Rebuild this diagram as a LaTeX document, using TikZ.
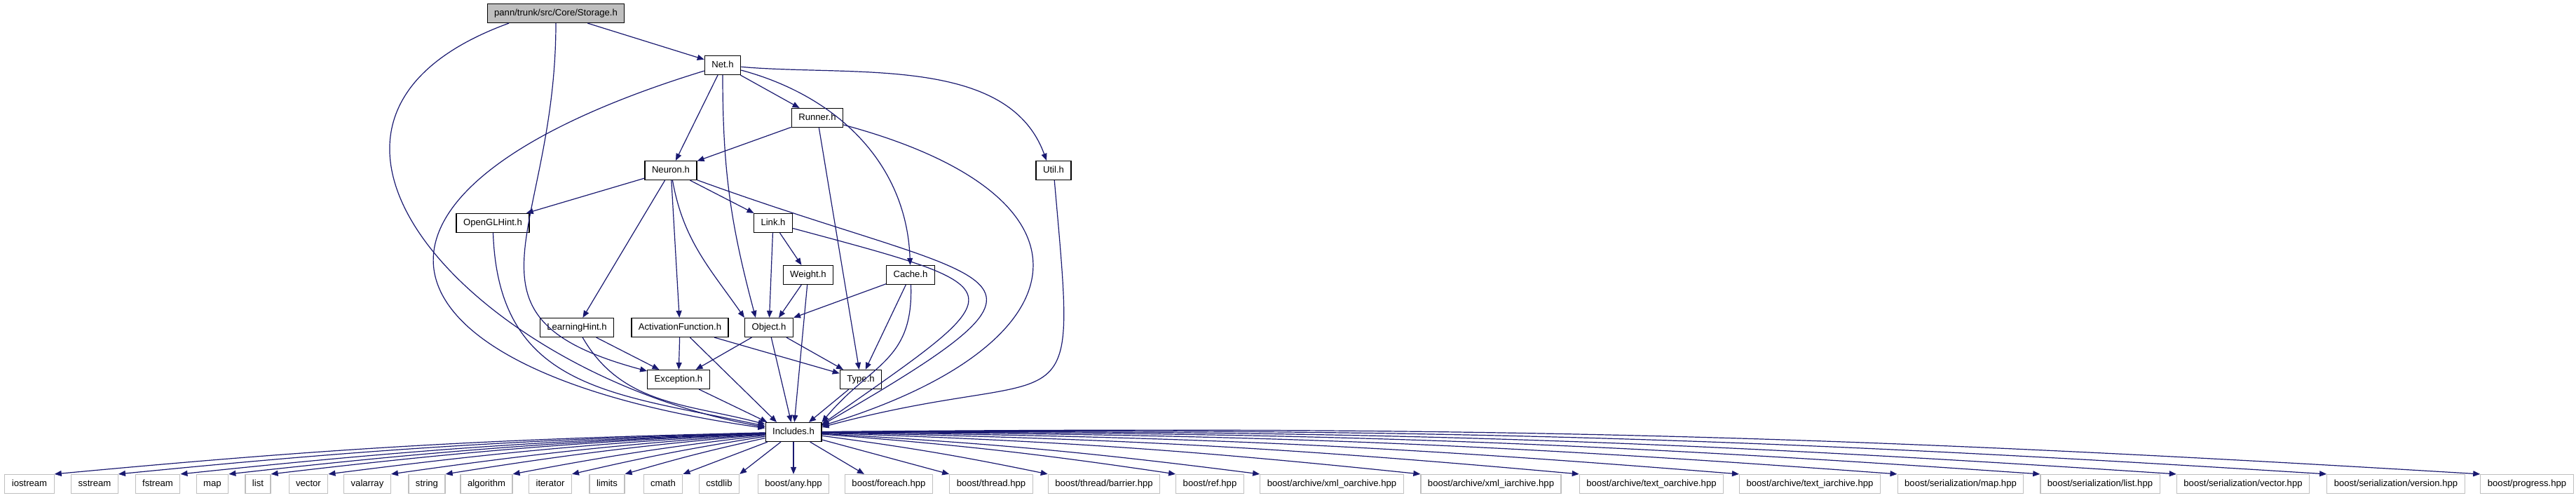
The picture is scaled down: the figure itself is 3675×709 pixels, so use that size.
\documentclass[tikz,border=0pt]{standalone}
\usepackage{fontspec}
\setmainfont{Liberation Sans}
\usepackage{xcolor}
\usepackage{tikz}
\usetikzlibrary{arrows.meta}

\definecolor{depblue}{RGB}{25,25,112}
\definecolor{boxgray}{RGB}{191,191,191}

\begin{document}
\begin{tikzpicture}[x=0.25pt, y=-0.25pt, >={Triangle[length=2.5pt,width=2pt]}]
    \tikzstyle{hdr} = [draw, rectangle, line width=0.3pt, minimum height=6.75pt, inner xsep=2.5pt, inner ysep=0pt, text height=2.5pt, text depth=0.75pt, font=\fontsize{3.28}{4}\selectfont]
    \tikzstyle{mainhdr} = [hdr, fill=boxgray]
    \tikzstyle{syshdr} = [hdr, draw=boxgray]
    \tikzstyle{dep} = [->, draw=depblue, line width=0.3pt]

    \useasboundingbox (0,0) rectangle (3675,709);

    % Nodes
    \node [mainhdr] (storage) at (793,19) {pann/trunk/src/Core/Storage.h};
    \node [hdr] (net) at (1031,93) {Net.h};
    \node [hdr] (runner) at (1166,168) {Runner.h};
    \node [hdr] (neuron) at (957,243) {Neuron.h};
    \node [hdr] (util) at (1503,243) {Util.h};
    \node [hdr] (opengl) at (703,318) {OpenGLHint.h};
    \node [hdr] (link) at (1103,318) {Link.h};
    \node [hdr] (weight) at (1153,392) {Weight.h};
    \node [hdr] (cache) at (1299,392) {Cache.h};
    \node [hdr] (learning) at (823,467) {LearningHint.h};
    \node [hdr] (activation) at (970,467) {ActivationFunction.h};
    \node [hdr] (object) at (1097,467) {Object.h};
    \node [hdr] (exception) at (968,541) {Exception.h};
    \node [hdr] (type) at (1228,541) {Type.h};
    \node [hdr] (includes) at (1132,616) {Includes.h};

    % System and boost headers
    \node [syshdr] (iostream) at (42,690) {iostream};
    \node [syshdr] (sstream) at (135,690) {sstream};
    \node [syshdr] (fstream) at (225,690) {fstream};
    \node [syshdr] (map) at (303,690) {map};
    \node [syshdr] (list) at (368,690) {list};
    \node [syshdr] (vector) at (440,690) {vector};
    \node [syshdr] (valarray) at (524,690) {valarray};
    \node [syshdr] (string) at (609,690) {string};
    \node [syshdr] (algorithm) at (694,690) {algorithm};
    \node [syshdr] (iterator) at (785,690) {iterator};
    \node [syshdr] (limits) at (866,690) {limits};
    \node [syshdr] (cmath) at (946,690) {cmath};
    \node [syshdr] (cstdlib) at (1026,690) {cstdlib};
    \node [syshdr] (boostany) at (1132,690) {boost/any.hpp};
    \node [syshdr] (foreach) at (1268,690) {boost/foreach.hpp};
    \node [syshdr] (thread) at (1414,690) {boost/thread.hpp};
    \node [syshdr] (barrier) at (1575,690) {boost/thread/barrier.hpp};
    \node [syshdr] (ref) at (1726,690) {boost/ref.hpp};
    \node [syshdr] (xmloarch) at (1900,690) {boost/archive/xml\_oarchive.hpp};
    \node [syshdr] (xmliarch) at (2127,690) {boost/archive/xml\_iarchive.hpp};
    \node [syshdr] (textoarch) at (2356,690) {boost/archive/text\_oarchive.hpp};
    \node [syshdr] (textiarch) at (2582,690) {boost/archive/text\_iarchive.hpp};
    \node [syshdr] (sermap) at (2797,690) {boost/serialization/map.hpp};
    \node [syshdr] (serlist) at (2996,690) {boost/serialization/list.hpp};
    \node [syshdr] (servector) at (3200,690) {boost/serialization/vector.hpp};
    \node [syshdr] (serversion) at (3418,690) {boost/serialization/version.hpp};
    \node [syshdr] (progress) at (3605,690) {boost/progress.hpp};

    % Paths
    \draw [dep] (storage) -- (net);
    \draw [dep] ([xshift=-16.75pt]storage.south) to[out=200, in=170, looseness=1.55] (includes);
    \draw [dep] (storage) to[out=-90, in=165, looseness=1.5] (exception);
    \draw [dep] (net) to[out=197, in=172, looseness=2.9] (includes);
    \draw [dep] (net) -- (neuron);
    \draw [dep] (net) to[out=-90, in=105] ([xshift=-4.75pt]object.north);
    \draw [dep] (net) -- (runner);
    \draw [dep] (net) to[out=-15, in=92] (cache);
    \draw [dep] (net) to[out=-5, in=110, looseness=0.9] ([xshift=-2.5pt]util.north);
    \draw [dep] (runner) -- (neuron);
    \draw [dep] (runner) -- (type);
    \draw [dep] (runner) to[out=-15, in=17, looseness=2.35] ([yshift=2.25pt]includes.east);
    \draw [dep] (util) to[out=-85, in=15, looseness=2] ([yshift=1.75pt]includes.east);
    \draw [dep] (neuron) -- (opengl);
    \draw [dep] (neuron) -- (learning);
    \draw [dep] (neuron) -- (activation);
    \draw [dep] (neuron) to[out=-80, in=125] (object.north west);
    \draw [dep] (neuron) -- (link);
    \draw [dep] (neuron) to[out=-20, in=30, looseness=3] ([yshift=2.5pt]includes.east);
    \draw [dep] (opengl) to[out=-88, in=168, looseness=1.2] (includes);
    \draw [dep] (link) -- (weight);
    \draw [dep] (link) -- (object);
    \draw [dep] (link) to[out=-15, in=35, looseness=3.1] ([yshift=2.75pt]includes.east);
    \draw [dep] (weight) -- ([xshift=3.5pt]object.north);
    \draw [dep] (weight) -- (includes);
    \draw [dep] (cache) -- (object.north east);
    \draw [dep] (cache) -- (type);
    \draw [dep] (cache) to[out=-88, in=50, looseness=1.2] (includes.north east);
    \draw [dep] (learning) -- (exception);
    \draw [dep] (learning) to[out=-60, in=165] ([yshift=-0.75pt]includes.north west);
    \draw [dep] (activation) -- (exception);
    \draw [dep] (activation) -- ([xshift=-6pt]includes.north);
    \draw [dep] (activation) -- (type);
    \draw [dep] (object) -- (exception);
    \draw [dep] (object) -- (includes);
    \draw [dep] (object) -- (type);
    \draw [dep] (exception) -- ([xshift=0.75pt]includes.north west);
    \draw [dep] (type) -- ([xshift=5.5pt]includes.north);

    \draw [dep] (includes) to[bend right=2] (iostream.north east);
    \draw [dep] (includes) to[bend right=2] (sstream.north east);
    \draw [dep] (includes) to[bend right=2] (fstream.north east);
    \draw [dep] (includes) to[bend right=2] (map.north east);
    \draw [dep] (includes) to[bend right=2] (list.north east);
    \draw [dep] (includes) to[bend right=2] (vector.north east);
    \draw [dep] (includes) to[bend right=2] (valarray.north east);
    \draw [dep] (includes) to[bend right=2] (string.north east);
    \draw [dep] (includes) to[bend right=2] (algorithm.north east);
    \draw [dep] (includes) to[bend right=2] (iterator.north east);
    \draw [dep] (includes) to[bend right=2] (limits.north east);
    \draw [dep] (includes) -- (cmath.north east);
    \draw [dep] (includes) -- (cstdlib.north east);
    \draw [dep] (includes) -- (boostany);
    \draw [dep] (includes) -- ([xshift=7pt]foreach.north west);
    \draw [dep] (includes) -- (thread.north west);
    \draw [dep] (includes) to[bend left=2] (barrier.north west);
    \draw [dep] (includes) to[bend left=2] (ref.north west);
    \draw [dep] (includes) to[bend left=2] (xmloarch.north west);
    \draw [dep] (includes) to[bend left=2] (xmliarch.north west);
    \draw [dep] (includes) to[bend left=2] (textoarch.north west);
    \draw [dep] (includes) to[bend left=2] (textiarch.north west);
    \draw [dep] (includes) to[bend left=2] (sermap.north west);
    \draw [dep] (includes) to[bend left=2] (serlist.north west);
    \draw [dep] (includes) to[bend left=2] (servector.north west);
    \draw [dep] (includes) to[bend left=2] (serversion.north west);
    \draw [dep] (includes) to[bend left=2] (progress.north west);
\end{tikzpicture}
\end{document}
